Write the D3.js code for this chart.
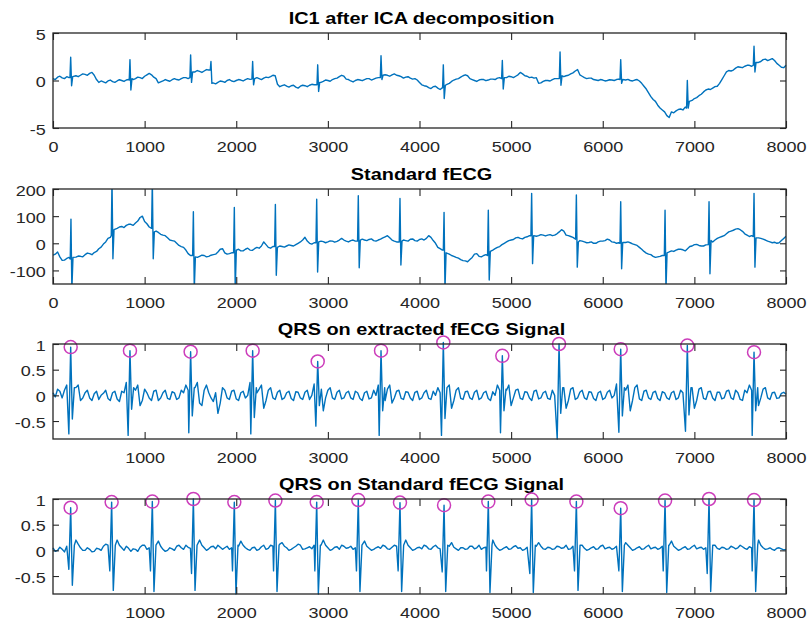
<!DOCTYPE html>
<html lang="en">
<head>
  <meta charset="UTF-8">
  <title>fECG extraction</title>
  <script src="https://cdn.jsdelivr.net/npm/d3@7"></script>
  <style>
    body { margin: 0; background: #fff; }
    svg { display: block; font-family: "Liberation Sans", Arial, Helvetica, sans-serif; }
    .tick text { font-family: "Liberation Sans", Arial, Helvetica, sans-serif; font-size: 15px; fill: #262626; }
    .title { font-size: 17px; font-weight: bold; fill: #000; }
  </style>
</head>
<body>
  <svg width="808" height="623"></svg>
  <script>
    // ---- data (sample index -> value) ----
    const titles = ["IC1 after ICA decomposition", "Standard fECG",
                    "QRS on extracted fECG Signal", "QRS on Standard fECG Signal"];
    const xTicksFull = [0, 1000, 2000, 3000, 4000, 5000, 6000, 7000, 8000];
    const xTicksQrs = [1000, 2000, 3000, 4000, 5000, 6000, 7000, 8000];
    const yTicksIc = [-5, 0, 5];
    const yTicksStd = [-100, 0, 100, 200];
    const yTicksQrs = [-0.5, 0, 0.5, 1];
    const baseStep = 50; // baseline read every 50 samples, "mid" arrays at +25

    // IC1
    const icBase = [0.2, 0.35, 0.28, 0.4, 0.3, 0.5, 0.55, 0.65, 0.75, 0.55,
      -0.2, -0.15, -0.05, -0.12, -0.05, 0.0, 0.05, 0.0, 0.2, 0.3,
      0.45, 0.75, 0.35, -0.25, -0.05, 0.0, 0.08, 0.1, 0.2, 0.3,
      0.3, 0.9, 0.95, 1.0, 1.1, -0.3, -0.2, -0.1, 0.0, -0.05,
      0.0, 0.05, 0.1, 0.12, 0.15, 0.2, 0.25, 0.3, 0.55, -0.4,
      -0.55, -0.6, -0.55, -0.7, -0.6, -0.55, -0.5, -0.45, -0.45, -0.1,
      0.0, 0.1, 0.25, 0.55, 0.15, -0.05, 0.0, 0.05, 0.1, 0.2,
      0.15, 0.3, 0.3, 0.55, 0.6, 0.55, 0.4, 0.35, 0.25, 0.2,
      -0.2, -0.55, -0.75, -0.65, -0.8, -0.8, -0.4, -0.1, 0.15, 0.35,
      0.6, 0.2, 0.0, 0.05, 0.1, 0.05, 0.15, 0.25, 0.25, 0.3,
      0.4, 0.45, 0.85, 0.5, 0.3, 0.25, -0.3, -0.1, 0.0, 0.1,
      0.2, 0.2, 0.5, 0.7, 1.0, 0.6, 0.3, 0.25, 0.1, 0.0,
      0.05, 0.0, 0.05, 0.1, 0.1, 0.05, 0.0, 0.05, -0.05, -0.6,
      -1.3, -2.0, -2.6, -3.1, -3.7, -3.3, -3.2, -3.0, -2.8, -2.8,
      -1.9, -1.6, -1.2, -0.9, -0.8, -0.6, 0.1, 0.9, 1.0, 1.3,
      1.4, 1.5, 1.6, 1.6, 1.9, 2.2, 2.1, 2.3, 1.8, 1.4,
      1.6];
    const icMid = [0.1, 0.45, 0.2, 0.3, 0.4, 0.4, 0.7, 0.55, 0.85, 0.1,
      -0.05, -0.25, 0.05, -0.2, 0.08, -0.1, 0.1, 0.1, 0.35, 0.2,
      0.6, 0.6, 0.2, -0.15, 0.1, -0.08, 0.2, 0.05, 0.3, 0.2,
      0.9, 1.05, 0.85, 1.15, 1.0, -0.35, -0.05, -0.2, 0.1, -0.12,
      0.1, -0.05, 0.2, 0.1, 0.3, 0.1, 0.35, 0.4, 0.5, -0.65,
      -0.45, -0.7, -0.5, -0.8, -0.5, -0.65, -0.4, -0.5, -0.2, 0.05,
      -0.08, 0.2, 0.4, 0.45, 0.1, -0.15, 0.1, -0.02, 0.2, 0.05,
      0.25, 0.3, 0.6, 0.45, 0.7, 0.5, 0.25, 0.4, 0.15, 0.05,
      -0.45, -0.6, -0.85, -0.6, -0.95, -0.6, -0.3, 0.05, 0.2, 0.5,
      0.5, 0.1, -0.1, 0.12, -0.02, 0.15, 0.1, 0.3, 0.3, 0.45,
      0.3, 0.6, 0.7, 0.45, 0.35, 0.3, -0.25, 0.0, -0.05, 0.2,
      0.2, 0.4, 0.55, 0.8, 1.15, 0.45, 0.2, 0.25, 0.05, 0.1,
      -0.05, 0.08, 0.0, 0.15, 0.05, 0.12, -0.05, 0.1, -0.3, -0.9,
      -1.7, -2.2, -2.9, -3.3, -3.9, -3.4, -3.05, -3.1, -2.8, -2.1,
      -1.8, -1.45, -1.0, -0.95, -0.65, -0.3, 0.5, 1.05, 1.1, 1.45,
      1.35, 1.6, 1.5, 1.8, 2.0, 2.25, 2.2, 2.1, 1.6, 1.35];
    // IC1 beats: [sample, before, peak, trough, after]
    const icBeats = [[193, 0.3, 2.45, -0.55, 0.4], [840, 0.05, 2.2, -1.0, 0.2],
      [1502, 0.3, 2.7, -0.2, 0.9], [1724, 1.1, 2.0, -0.3, -0.25],
      [2179, 0.15, 2.0, -0.45, 0.2], [2889, -0.45, 1.65, -1.15, -0.2],
      [3580, 0.3, 2.6, 0.1, 0.55], [4260, -0.75, 1.65, -1.9, -0.5],
      [4904, 0.2, 2.1, -0.9, 0.3], [5534, 0.2, 3.0, -0.5, 0.5],
      [6196, 0.1, 2.2, -0.3, 0.1], [6923, -2.9, 0.0, -2.9, -2.2],
      [7651, 1.6, 3.6, 0.9, 1.9]];

    // Standard fECG
    const stdBase = [-44, -32, -63, -56, -50, -51, -48, -42, -38, -34,
      -20, -3, 18, 30, 55, 62, 66, 70, 75, 95,
      80, 60, 42, 40, 30, 20, 10, 0, -12, -25,
      -45, -50, -48, -45, -48, -42, -32, -20, -40, -35,
      -25, -28, -22, -25, -20, -18, 5, -15, -12, -15,
      -12, -10, -8, -5, 5, 22, 0, 2, 5, 6,
      5, 8, 7, 18, 8, 10, 8, 12, 12, 14,
      10, 12, 20, 28, 12, 5, 8, 10, 15, 10,
      14, 12, 28, 10, -15, -25, -35, -45, -52, -60,
      -65, -60, -40, -48, -45, -40, -25, -15, -5, 5,
      12, 20, 18, 22, 28, 28, 28, 30, 30, 28,
      35, 50, 30, 25, 15, 10, 5, 3, 0, 5,
      8, 15, 5, 0, 0, 3, 2, -5, -15, -30,
      -40, -48, -50, -45, -40, -28, -25, -22, -28, -12,
      -5, -8, -10, -5, 5, 18, 25, 35, 45, 52,
      50, 35, 25, 25, 20, 15, 8, 2, 0, 10,
      26];
    const stdMid = [-40, -50, -62, -52, -52, -47, -50, -36, -42, -30,
      -14, 5, 22, 50, 60, 58, 70, 66, 82, 100,
      72, 50, 45, 33, 28, 12, 8, -8, -15, -38,
      -50, -52, -44, -50, -44, -40, -22, -35, -38, -35,
      -22, -28, -18, -26, -15, -10, -5, -18, -12, -10,
      -14, -6, -10, 0, 12, 8, -3, 2, 8, 2,
      9, 4, 12, 12, 5, 12, 6, 15, 10, 16,
      8, 15, 24, 20, 8, 5, 12, 8, 16, 8,
      16, 18, 22, 0, -20, -30, -40, -48, -55, -64,
      -68, -52, -38, -50, -42, -35, -20, -12, 0, 10,
      14, 22, 16, 24, 28, 26, 32, 27, 32, 30,
      42, 45, 28, 22, 12, 8, 2, 5, 0, 8,
      10, 12, 4, 2, 0, 5, -2, -8, -22, -36,
      -42, -52, -48, -44, -32, -30, -22, -24, -20, -10,
      -4, -10, -6, 0, 12, 22, 28, 42, 48, 54,
      44, 30, 28, 22, 18, 12, 5, 4, 2, 18];
    const stdBeats = [[196, -58, 89, -170, -52], [644, 28, 230, -57, 50],
      [1084, 55, 230, -57, 42], [1532, -45, 116, -170, -50],
      [1979, -35, 132, -170, -25], [2427, -12, 143, -118, -15],
      [2878, 2, 162, -106, 5], [3332, 8, 175, -90, 12],
      [3787, 5, 165, -80, 8], [4268, -25, 114, -170, -35],
      [4751, -45, 122, -135, -30], [5224, 28, 184, -75, 28],
      [5712, 15, 178, -88, 5], [6196, 0, 153, -94, 3],
      [6680, -45, 122, -170, -35], [7160, -5, 153, -112, 10],
      [7651, 25, 184, -88, 20]];

    // QRS on extracted fECG: beats are [sample, neg1, peak, neg2, after]
    const extBase = [0.05, 0.12, -0.05, 0.2, 0.0, 0.15, -0.1, 0.05, -0.05, 0.03,
      -0.08, 0.04, -0.06, 0.05, -0.07, 0.08, 0.25, 0.0, 0.1, -0.2,
      0.12, -0.05, 0.08, -0.1, 0.05, -0.06, 0.07, -0.08, 0.1, 0.2,
      0.0, 0.15, -0.15, 0.1, 0.05, -0.12, -0.35, 0.15, -0.05, 0.08,
      -0.07, 0.05, -0.05, 0.25, 0.0, 0.12, -0.25, 0.1, -0.05, 0.06,
      -0.08, 0.05, -0.06, 0.07, -0.05, 0.06, -0.08, 0.22, 0.0, -0.3,
      0.1, -0.05, 0.06, -0.07, 0.05, -0.05, 0.08, -0.06, 0.05, -0.07,
      0.1, 0.2, 0.0, 0.12, -0.15, 0.08, -0.06, 0.07, -0.05, 0.06,
      -0.08, 0.05, -0.06, 0.08, 0.15, 0.0, 0.15, -0.25, 0.1, -0.06,
      0.07, -0.05, 0.06, -0.08, 0.05, -0.06, 0.07, 0.2, 0.0, 0.1,
      -0.2, 0.1, -0.06, 0.07, -0.05, 0.08, -0.07, 0.05, -0.06, 0.1,
      0.2, 0.0, -0.25, 0.12, -0.08, 0.06, -0.05, 0.07, -0.06, 0.05,
      -0.08, 0.06, -0.05, 0.22, 0.0, 0.1, -0.3, 0.15, -0.07, 0.08,
      -0.05, 0.06, -0.06, 0.07, -0.05, 0.05, -0.08, 0.1, 0.22, 0.0,
      -0.25, 0.12, -0.06, 0.07, -0.05, 0.06, -0.07, 0.08, -0.05, 0.1,
      -0.08, 0.1, 0.2, 0.0, -0.2, 0.12, -0.05, 0.05, -0.06, 0.04,
      0.02];
    const extMid = [-0.03, 0.08, 0.1, 0.1, 0.0, 0.2, -0.05, 0.1, -0.1, 0.08,
      0.0, 0.1, -0.1, 0.08, -0.12, 0.05, 0.1, 0.0, 0.2, -0.1,
      0.05, -0.1, 0.1, -0.05, 0.1, -0.08, 0.05, -0.05, 0.05, 0.1,
      0.0, 0.25, -0.2, 0.2, -0.05, 0.05, -0.15, 0.1, -0.08, 0.1,
      -0.1, 0.08, 0.0, 0.0, 0.05, 0.2, -0.1, 0.15, -0.08, 0.1,
      -0.05, 0.08, -0.1, 0.06, -0.08, 0.1, 0.0, 0.0, 0.0, -0.05,
      0.15, -0.08, 0.1, -0.05, 0.08, -0.08, 0.05, -0.1, 0.08, -0.05,
      0.0, 0.0, -0.1, 0.2, -0.05, 0.1, -0.08, 0.06, -0.1, 0.08,
      -0.05, 0.1, -0.08, 0.0, 0.05, 0.0, 0.2, -0.1, 0.15, -0.08,
      0.08, -0.08, 0.1, -0.05, 0.08, -0.1, 0.0, 0.1, 0.0, 0.2,
      -0.05, 0.12, -0.08, 0.06, -0.1, 0.1, -0.05, 0.08, -0.08, 0.0,
      0.0, 0.15, -0.1, 0.15, -0.05, 0.1, -0.08, 0.06, -0.1, 0.08,
      -0.05, 0.1, 0.0, 0.0, 0.0, 0.2, -0.1, 0.2, -0.1, 0.1,
      -0.08, 0.08, -0.1, 0.05, -0.08, 0.08, -0.05, 0.05, 0.0, 0.15,
      -0.1, 0.15, -0.08, 0.08, -0.1, 0.06, -0.05, 0.1, -0.08, 0.05,
      -0.1, 0.05, 0.1, 0.0, -0.05, 0.15, -0.08, 0.06, -0.05, 0.06];
    const extBeats = [[193, -0.75, 0.94, -0.46, 0.15], [840, -0.78, 0.87, -0.27, 0.15],
      [1502, -0.73, 0.85, -0.4, 0.15], [2179, -0.75, 0.87, -0.43, 0.15],
      [2889, -0.6, 0.66, -0.2, 0.12], [3580, -0.78, 0.87, -0.3, 0.15],
      [4260, -0.78, 1.03, -0.45, 0.15], [4904, -0.73, 0.77, -0.3, 0.12],
      [5523, -0.85, 1.0, -0.35, 0.15], [6196, -0.72, 0.9, -0.4, 0.15],
      [6923, -0.7, 0.97, -0.38, 0.15], [7651, -0.78, 0.84, -0.3, 0.15]];

    // QRS on standard fECG
    const stdQrsBase = [0.05, 0.0, 0.02, 0.08, 0.0, 0.2, 0.05, 0.0, 0.02, -0.02,
      0.03, 0.08, 0.1, 0.0, 0.2, 0.05, 0.08, -0.02, 0.02, 0.06,
      0.1, 0.05, 0.0, 0.18, 0.02, 0.0, 0.03, 0.08, 0.05, 0.1,
      0.04, 0.0, 0.2, 0.05, 0.03, 0.08, 0.1, 0.02, 0.08, 0.05,
      0.0, 0.18, 0.05, 0.0, 0.06, 0.02, 0.1, 0.04, 0.08, 0.0,
      0.15, 0.05, 0.02, 0.08, 0.1, 0.03, 0.07, 0.1, 0.0, 0.2,
      0.05, 0.02, 0.07, 0.1, 0.04, 0.08, 0.05, 0.0, 0.18, 0.04,
      0.02, 0.07, 0.1, 0.03, 0.06, 0.08, 0.0, 0.2, 0.05, 0.02,
      0.06, 0.1, 0.03, 0.07, 0.05, 0.1, 0.0, 0.15, 0.03, 0.05,
      0.02, 0.08, 0.03, 0.1, 0.05, 0.0, 0.2, 0.04, 0.02, 0.07,
      0.03, 0.09, 0.05, 0.02, 0.08, 0.0, 0.15, 0.03, 0.06, 0.02,
      0.08, 0.04, 0.1, 0.03, 0.0, 0.2, 0.04, 0.02, 0.07, 0.03,
      0.1, 0.05, 0.02, 0.08, 0.0, 0.15, 0.05, 0.02, 0.07, 0.03,
      0.1, 0.05, 0.02, 0.08, 0.0, 0.18, 0.04, 0.02, 0.07, 0.03,
      0.1, 0.05, 0.02, 0.0, 0.2, 0.04, 0.06, 0.02, 0.08, 0.03,
      0.1, 0.04, 0.07, 0.0, 0.2, 0.05, 0.03, 0.02, 0.04, 0.03,
      0.02];
    const stdQrsMid = [-0.02, 0.06, -0.03, 0.05, 0.0, 0.12, 0.0, 0.05, -0.03, 0.04,
      0.0, 0.12, 0.04, 0.0, 0.1, 0.0, 0.04, 0.03, -0.02, 0.1,
      0.02, 0.08, 0.0, 0.08, -0.02, 0.05, 0.0, 0.1, 0.02, 0.06,
      0.0, 0.0, 0.1, 0.0, 0.07, 0.03, 0.06, 0.05, 0.02, 0.0,
      0.08, 0.1, 0.02, 0.05, 0.0, 0.07, 0.02, 0.1, 0.0, 0.12,
      0.08, 0.0, 0.05, 0.12, 0.02, 0.05, 0.03, 0.0, 0.1, 0.1,
      0.0, 0.06, 0.02, 0.08, 0.05, 0.02, 0.1, 0.0, 0.08, 0.0,
      0.05, 0.04, 0.08, 0.02, 0.1, 0.0, 0.12, 0.1, 0.0, 0.05,
      0.03, 0.08, 0.02, 0.1, 0.03, 0.0, 0.08, 0.06, 0.0, 0.05,
      0.03, 0.08, 0.05, 0.02, 0.06, 0.0, 0.1, 0.0, 0.05, 0.02,
      0.07, 0.04, 0.0, 0.06, 0.0, 0.08, 0.08, 0.02, 0.05, 0.03,
      0.07, 0.05, 0.02, 0.08, 0.0, 0.1, 0.0, 0.05, 0.02, 0.08,
      0.03, 0.06, 0.04, 0.0, 0.0, 0.1, 0.0, 0.05, 0.02, 0.07,
      0.03, 0.06, 0.04, 0.0, 0.1, 0.08, 0.0, 0.05, 0.02, 0.07,
      0.03, 0.06, 0.05, 0.0, 0.1, 0.02, 0.05, 0.03, 0.06, 0.05,
      0.07, 0.02, 0.05, 0.0, 0.1, 0.02, 0.05, 0.0, 0.05, 0.01];
    const stdQrsBeats = [[193, -0.37, 0.83, -0.68, 0.1], [640, -0.4, 0.94, -0.78, 0.1],
      [1084, -0.4, 0.95, -0.8, 0.1], [1532, -0.45, 1.0, -0.78, 0.1],
      [1979, -0.4, 0.94, -0.85, 0.1], [2427, -0.4, 0.97, -0.8, 0.1],
      [2878, -0.4, 0.94, -0.85, 0.1], [3332, -0.4, 0.98, -0.8, 0.1],
      [3787, -0.4, 0.93, -0.8, 0.1], [4268, -0.42, 0.88, -0.8, 0.1],
      [4751, -0.4, 0.95, -0.82, 0.1], [5224, -0.45, 0.99, -0.82, 0.1],
      [5712, -0.4, 0.95, -0.78, 0.1], [6196, -0.4, 0.82, -0.8, 0.1],
      [6680, -0.4, 0.97, -0.82, 0.1], [7160, -0.45, 1.0, -0.8, 0.1],
      [7651, -0.4, 0.98, -0.8, 0.1]];

    // ---- layout ----
    const svg = d3.select("svg");
    const left = 53, plotW = 733, plotH = 95;
    const tops = [33, 189, 344, 499];
    const lineColor = "#0072BD", markColor = "#cc3dbb", axisColor = "#262626";

    // merge baseline readings with the beat complexes (sample offsets inside a QRS)
    function buildSignal(base, mid, beats, offs, win) {
      const pts = [];
      const inBeat = t => beats.some(b => t > b[0] + win[0] && t < b[0] + win[1]);
      base.forEach((v, i) => { const t = i * baseStep; if (!inBeat(t)) pts.push([t, v]); });
      mid.forEach((v, i) => { const t = i * baseStep + baseStep / 2; if (!inBeat(t)) pts.push([t, v]); });
      beats.forEach(b => offs.forEach((o, k) => pts.push([b[0] + o, b[k + 1]])));
      return pts.sort((a, b) => a[0] - b[0]);
    }

    const panels = [
      { base: icBase, mid: icMid, beats: icBeats, yDom: [-5, 5], yTicks: yTicksIc, xTicks: xTicksFull,
        offs: [-8, 0, 10, 22], win: [-15, 35], marks: false, clip: false },
      { base: stdBase, mid: stdMid, beats: stdBeats, yDom: [-150, 200], yTicks: yTicksStd, xTicks: xTicksFull,
        offs: [-8, 0, 10, 22], win: [-15, 35], marks: false, clip: true },
      { base: extBase, mid: extMid, beats: extBeats, yDom: [-0.85, 1], yTicks: yTicksQrs, xTicks: xTicksQrs,
        offs: [-20, 0, 18, 40], win: [-25, 45], marks: true, clip: false },
      { base: stdQrsBase, mid: stdQrsMid, beats: stdQrsBeats, yDom: [-0.85, 1], yTicks: yTicksQrs, xTicks: xTicksQrs,
        offs: [-20, 0, 18, 40], win: [-25, 45], marks: true, clip: false }
    ];

    panels.forEach((p, i) => {
      const g = svg.append("g").attr("transform", `translate(${left},${tops[i]})`);
      const x = d3.scaleLinear().domain([0, 8000]).range([0, plotW]);
      const y = d3.scaleLinear().domain(p.yDom).range([plotH, 0]);

      // title
      g.append("text").attr("class", "title")
        .attr("transform", `translate(${plotW / 2 + 2},-9) scale(1.17,1)`)
        .attr("text-anchor", "middle")
        .text(titles[i]);

      // signal
      const pts = buildSignal(p.base, p.mid, p.beats, p.offs, p.win);
      if (p.clip) {
        svg.append("clipPath").attr("id", "clip" + i)
          .append("rect").attr("width", plotW).attr("height", plotH);
      }
      g.append("path")
        .datum(pts)
        .attr("fill", "none")
        .attr("stroke", lineColor)
        .attr("stroke-width", 1.4)
        .attr("stroke-linejoin", "round")
        .attr("clip-path", p.clip ? `url(#clip${i})` : null)
        .attr("d", d3.line().x(d => x(d[0])).y(d => y(d[1])));

      // detected R peaks
      if (p.marks) {
        g.selectAll("circle.peak").data(p.beats).join("circle")
          .attr("class", "peak")
          .attr("cx", d => x(d[0]))
          .attr("cy", d => y(d[2]))
          .attr("r", 6.5)
          .attr("fill", "none")
          .attr("stroke", markColor)
          .attr("stroke-width", 1.5);
      }

      // axes (MATLAB style: inward ticks on all four sides, box)
      const fmt = d => String(d);
      const gx = g.append("g").attr("transform", `translate(0,${plotH})`)
        .call(d3.axisBottom(x).tickValues(p.xTicks).tickSize(-7).tickPadding(13).tickFormat(fmt));
      const gt = g.append("g")
        .call(d3.axisTop(x).tickValues(p.xTicks).tickSize(-7).tickFormat(() => ""));
      const gy = g.append("g")
        .call(d3.axisLeft(y).tickValues(p.yTicks).tickSize(-6).tickPadding(6).tickFormat(fmt));
      const gr = g.append("g").attr("transform", `translate(${plotW},0)`)
        .call(d3.axisRight(y).tickValues(p.yTicks).tickSize(-6).tickFormat(() => ""));
      [gx, gt, gy, gr].forEach(a => {
        a.select(".domain").remove();
        a.selectAll("line").attr("stroke", axisColor).attr("stroke-width", 1.1);
      });
      gx.selectAll("text").attr("transform", "scale(1.2,1)");
      gy.selectAll("text").attr("transform", "scale(1.2,1)").attr("dy", "0.4em");

      g.append("rect")
        .attr("width", plotW).attr("height", plotH)
        .attr("fill", "none")
        .attr("stroke", axisColor)
        .attr("stroke-width", 1.3);
    });
  </script>
</body>
</html>
